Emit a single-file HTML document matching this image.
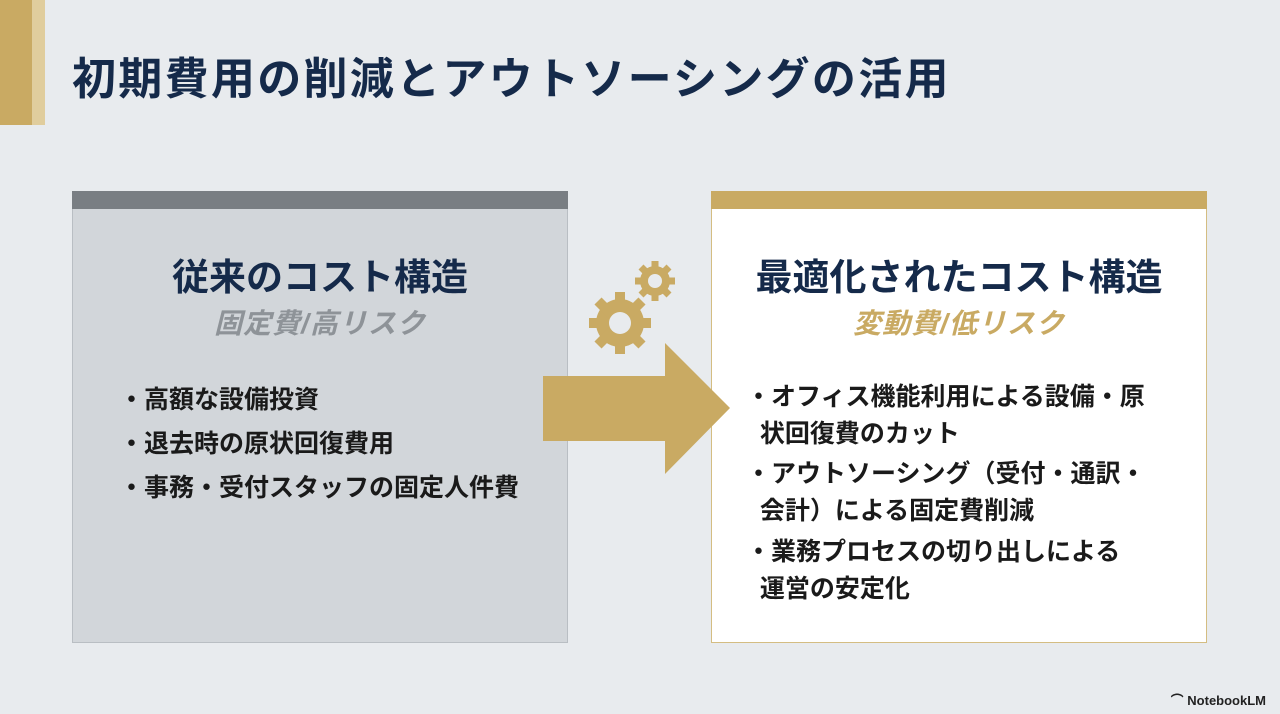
<!DOCTYPE html>
<html><head><meta charset="utf-8"><style>
body{margin:0;width:1280px;height:714px;background:#e8ebee;position:relative;overflow:hidden;font-family:"Liberation Sans","Noto Sans CJK JP",sans-serif;}
.a{position:absolute}
h1{position:absolute;left:72px;top:52px;margin:0;font-size:44px;line-height:56px;font-weight:bold;color:#152a4a;white-space:nowrap;letter-spacing:2.3px}
.box{position:absolute;top:191px;width:496px;height:452px;box-sizing:border-box}
.hd{position:absolute;left:0;right:0;text-align:center;font-weight:bold;color:#152a4a;font-size:37px;line-height:44px;top:64px}
.sub{position:absolute;left:0;right:0;text-align:center;font-style:italic;font-weight:bold;font-size:28px;line-height:36px;top:114px;letter-spacing:1px}
.li{position:absolute;font-size:25px;font-weight:bold;color:#1a1a1a;white-space:nowrap}
</style></head><body>
<div class="a" style="left:0;top:0;width:32px;height:125px;background:#c9aa63"></div>
<div class="a" style="left:32px;top:0;width:13px;height:125px;background:#e0cd9d"></div>
<h1>初期費用の削減とアウトソーシングの活用</h1>
<div class="box" style="left:72px;background:#d2d6da;border:1px solid #b9bec3">
 <div class="a" style="left:-1px;right:-1px;top:-1px;height:18px;background:#797e83"></div>
 <div class="hd">従来のコスト構造</div>
 <div class="sub" style="color:#8e9398">固定費/高リスク</div>
 <div class="li" style="left:46px;top:186px;line-height:44px">・高額な設備投資<br>・退去時の原状回復費用<br>・事務・受付スタッフの固定人件費</div>
</div>
<div class="box" style="left:711px;background:#fff;border:1.5px solid #d4bd82">
 <div class="a" style="left:-1px;right:-1px;top:-1px;height:18px;background:#c9aa63"></div>
 <div class="hd">最適化されたコスト構造</div>
 <div class="sub" style="color:#c9aa63">変動費/低リスク</div>
 <div class="li" style="left:34px;top:187px;line-height:37px">・オフィス機能利用による設備・原<br>&nbsp;&nbsp;状回復費のカット</div>
 <div class="li" style="left:34px;top:264px;line-height:37px">・アウトソーシング（受付・通訳・<br>&nbsp;&nbsp;会計）による固定費削減</div>
 <div class="li" style="left:34px;top:342px;line-height:37px">・業務プロセスの切り出しによる<br>&nbsp;&nbsp;運営の安定化</div>
</div>
<svg class="a" style="left:0;top:0" width="1280" height="714">
 <polygon points="543,376 665,376 665,343 730,408 665,474 665,441 543,441" fill="#c9aa63"/>
 <g fill="#c9aa63" transform="translate(620,323)">
  <circle r="24"/>
  <g stroke="#c9aa63" stroke-width="10">
   <line x1="0" y1="-31" x2="0" y2="31"/><line x1="-31" y1="0" x2="31" y2="0"/>
   <line x1="-22" y1="-22" x2="22" y2="22"/><line x1="-22" y1="22" x2="22" y2="-22"/>
  </g>
  <circle r="11" fill="#e8ebee"/>
 </g>
 <g fill="#c9aa63" transform="translate(655,281)">
  <circle r="15"/>
  <g stroke="#c9aa63" stroke-width="7">
   <line x1="0" y1="-20" x2="0" y2="20"/><line x1="-20" y1="0" x2="20" y2="0"/>
   <line x1="-14" y1="-14" x2="14" y2="14"/><line x1="-14" y1="14" x2="14" y2="-14"/>
  </g>
  <circle r="7" fill="#e8ebee"/>
 </g>
</svg>
<div class="a" style="right:14px;top:690px;font-size:13px;font-weight:bold;color:#222">⌒ NotebookLM</div>
</body></html>
